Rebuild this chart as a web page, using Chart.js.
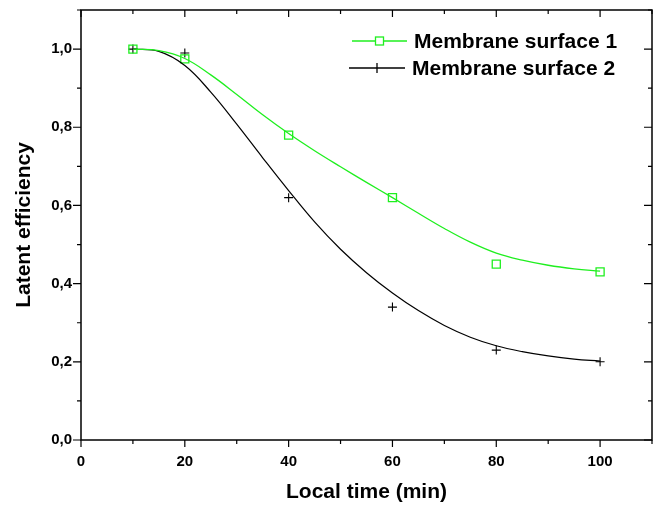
<!DOCTYPE html>
<html>
<head>
<meta charset="utf-8">
<script src="https://cdn.jsdelivr.net/npm/chart.js@4/dist/chart.umd.min.js"></script>
<style>
  html, body { margin: 0; padding: 0; background: #fff; }
  #wrap { width: 655px; height: 507px; }
</style>
</head>
<body>
<div id="wrap"><canvas id="chart" width="655" height="507"></canvas></div>
<script>
  // measured points
  const times     = [10, 20, 40, 60, 80, 100];
  const surface1  = [1.0, 0.975, 0.78, 0.62, 0.45, 0.43];
  const surface2  = [1.0, 0.99, 0.62, 0.34, 0.23, 0.20];

  // fitted curves
  const fitTimes = [10, 15, 20, 25, 30, 35, 40, 45, 50, 55, 60, 65, 70, 75, 80, 85, 90, 95, 100];
  const fit1 = [1.0, 0.996, 0.976, 0.934, 0.884, 0.832, 0.784, 0.74, 0.699, 0.659, 0.62, 0.58, 0.541, 0.506, 0.478, 0.46, 0.447, 0.438, 0.432];
  const fit2 = [1.0, 0.994, 0.958, 0.89, 0.808, 0.722, 0.638, 0.558, 0.488, 0.428, 0.376, 0.331, 0.293, 0.263, 0.241, 0.226, 0.215, 0.207, 0.202];

  const seriesLabels = ['Membrane surface 1', 'Membrane surface 2'];
  const xTicks = [0, 20, 40, 60, 80, 100];
  const yTicks = [0, 0.2, 0.4, 0.6, 0.8, 1.0];

  const green = '#1FEF1F';
  const black = '#000000';
  const FONT = 'Liberation Sans, Arial, sans-serif';

  const toXY = (xs, ys) => xs.map((x, i) => ({ x, y: ys[i] }));

  // frame, minor/major ticks on all four sides, legend
  const framePlugin = {
    id: 'frame',
    afterDraw(chart) {
      const { ctx, chartArea: a, scales: { x, y } } = chart;
      ctx.save();
      ctx.strokeStyle = '#000';
      ctx.lineWidth = 1.5;
      ctx.strokeRect(a.left, a.top, a.right - a.left, a.bottom - a.top);
      ctx.lineWidth = 1.2;
      ctx.beginPath();
      for (let v = 0; v <= 110; v += 10) {
        const px = x.getPixelForValue(v);
        const len = v % 20 === 0 ? 7 : 4;
        ctx.moveTo(px, a.bottom); ctx.lineTo(px, a.bottom + len);
        ctx.moveTo(px, a.top);    ctx.lineTo(px, a.top + len);
      }
      for (let k = 0; k <= 11; k++) {
        const py = y.getPixelForValue(k / 10);
        const len = k % 2 === 0 ? 8 : 4;
        ctx.moveTo(a.left, py);  ctx.lineTo(a.left - len, py);
        ctx.moveTo(a.right, py); ctx.lineTo(a.right - len, py);
      }
      ctx.stroke();

      // legend
      const rows = [
        { y: 41, color: green, marker: 'rect', x0: 352, x1: 407, tx: 414 },
        { y: 68, color: black, marker: 'cross', x0: 349, x1: 405, tx: 412 }
      ];
      ctx.font = 'bold 21px ' + FONT;
      ctx.textBaseline = 'middle';
      ctx.fillStyle = '#000';
      rows.forEach((r, i) => {
        ctx.strokeStyle = r.color;
        ctx.lineWidth = 1.3;
        ctx.beginPath();
        ctx.moveTo(r.x0, r.y); ctx.lineTo(r.x1, r.y);
        ctx.stroke();
        const cx = (r.x0 + r.x1) / 2;
        if (r.marker === 'rect') {
          ctx.fillStyle = '#fff';
          ctx.fillRect(cx - 4, r.y - 4, 8, 8);
          ctx.strokeRect(cx - 4, r.y - 4, 8, 8);
        } else {
          ctx.beginPath();
          ctx.moveTo(cx, r.y - 5); ctx.lineTo(cx, r.y + 5);
          ctx.stroke();
        }
        ctx.fillStyle = '#000';
        ctx.fillText(seriesLabels[i], r.tx, r.y + 1);
      });
      ctx.restore();
    }
  };

  new Chart(document.getElementById('chart'), {
    type: 'scatter',
    data: {
      datasets: [
        {
          label: seriesLabels[0] + ' fit',
          data: toXY(fitTimes, fit1),
          showLine: true,
          borderColor: green,
          borderWidth: 1.3,
          pointRadius: 0,
          tension: 0.4
        },
        {
          label: seriesLabels[1] + ' fit',
          data: toXY(fitTimes, fit2),
          showLine: true,
          borderColor: black,
          borderWidth: 1.2,
          pointRadius: 0,
          tension: 0.4
        },
        {
          label: seriesLabels[0],
          data: toXY(times, surface1),
          showLine: false,
          pointStyle: 'rect',
          pointRadius: 5.7,
          borderColor: green,
          borderWidth: 1.3,
          backgroundColor: 'rgba(0,0,0,0)'
        },
        {
          label: seriesLabels[1],
          data: toXY(times, surface2),
          showLine: false,
          pointStyle: 'cross',
          pointRadius: 4.5,
          borderColor: black,
          borderWidth: 1.1
        }
      ]
    },
    options: {
      responsive: false,
      animation: false,
      layout: { autoPadding: false, padding: { left: 0, top: 10, right: 3, bottom: 0 } },
      plugins: { legend: { display: false }, tooltip: { enabled: false } },
      scales: {
        x: {
          type: 'linear',
          min: 0, max: 110,
          afterBuildTicks: s => { s.ticks = xTicks.map(v => ({ value: v })); },
          afterFit: s => { s.height = 67; s.paddingLeft = 0; s.paddingRight = 0; },
          grid: { display: false, drawTicks: false },
          border: { display: false },
          ticks: {
            padding: 13,
            color: '#000',
            font: { family: FONT, size: 15, weight: 'bold' },
            maxRotation: 0
          },
          title: {
            display: true,
            text: 'Local time (min)',
            color: '#000',
            font: { family: FONT, size: 21, weight: 'bold' },
            padding: { top: 0, bottom: 2 }
          }
        },
        y: {
          min: 0, max: 1.1,
          afterBuildTicks: s => { s.ticks = yTicks.map(v => ({ value: v })); },
          afterFit: s => { s.width = 81; s.paddingTop = 0; s.paddingBottom = 0; },
          grid: { display: false, drawTicks: false },
          border: { display: false },
          ticks: {
            padding: 9,
            color: '#000',
            font: { family: FONT, size: 15, weight: 'bold' },
            callback: v => v.toFixed(1).replace('.', ',')
          },
          title: {
            display: true,
            text: 'Latent efficiency',
            color: '#000',
            font: { family: FONT, size: 21, weight: 'bold' },
            padding: { top: 12, bottom: 0 }
          }
        }
      }
    },
    plugins: [framePlugin]
  });
</script>
</body>
</html>
